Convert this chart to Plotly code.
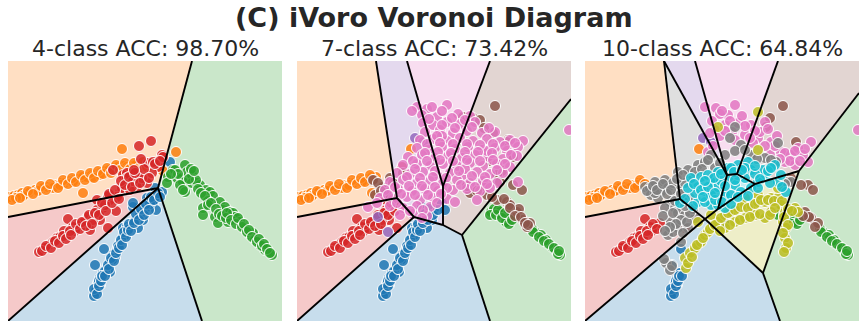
import plotly.graph_objects as go

# each panel is a 274 x 260 frame (x right, y up)
TAB = {
    "blue": (31, 119, 180), "orange": (255, 127, 14), "green": (44, 160, 44),
    "red": (214, 39, 40), "purple": (148, 103, 189), "brown": (140, 86, 75),
    "pink": (227, 119, 194), "gray": (127, 127, 127), "olive": (188, 189, 34),
    "cyan": (23, 190, 207),
}
CLASS_ORDER = ["blue", "orange", "green", "red", "purple", "brown", "pink", "gray", "olive", "cyan"]

main_title = "(C) iVoro Voronoi Diagram"
titles = ["4-class ACC: 98.70%", "7-class ACC: 73.42%", "10-class ACC: 64.84%"]

# ---------------- points ----------------
orange_4 = [(2,124),(6,125),(10,126),(14,128),(18,127),(22,129),(27,131),(31,131),(35,133),(40,134),
            (44,134),(48,136),(53,138),(57,138),(62,140),(66,141),(70,142),(75,144),(79,144),(84,146),
            (88,147),(92,148),(97,150),(101,151),(106,153),(110,154),(115,155),(119,154),(124,155),(128,156),
            (133,155),(137,156),(141,157),(146,155),(15,125),(45,133),(65,139),(85,144),(105,150),(125,152),
            (114,172),(75,128),(168,169),(150,152),(155,150),(8,123),(30,130),(52,136),(92,146),(120,152),
            (4,121),(12,123),(20,130),(25,127),(33,135),(38,131),(42,137),(50,133),(55,141),(60,137),
            (64,143),(68,139),(73,146),(77,141),(82,148),(86,143),(90,150),(95,147),(99,153),(103,148),
            (108,156),(112,151),(117,158),(122,152),(126,158),(131,153),(135,159),(139,154),(144,158)]
orange_7 = [(2,124),(6,125),(10,126),(14,128),(18,127),(22,129),(27,131),(31,131),(35,133),(40,134),
            (44,134),(48,136),(53,138),(57,138),(62,140),(66,141),(70,142),(75,144),(79,144),(15,125),
            (45,133),(65,139),(75,128),(8,123),(30,130),(52,136),(114,172),
            (4,121),(12,123),(20,130),(25,127),(33,135),(38,131),(42,137),(50,133),(55,141),(60,137),
            (64,143),(68,139),(73,146),(77,141)]
orange_10 = [(2,124),(6,125),(10,126),(14,128),(18,127),(22,129),(27,131),(31,131),(35,133),(40,134),
             (44,134),(48,136),(53,138),(57,138),(15,125),(45,133),(8,123),(30,130),(52,136),(114,172),
             (4,121),(12,123),(20,130),(25,127),(33,135),(38,131),(42,137),(50,133),(55,141),(60,137)]

red_4 = [(31,69),(41,76),(49,83),(59,86),(60,102),(70,94),(77,101),(80,104),(89,121),(95,113),
         (100,93),(92,101),(102,121),(112,129),(120,139),(115,146),(105,151),(119,148),(82,91),(65,94),
         (52,84),(37,73),(45,79),(89,111),(131,175),(143,180),(130,146),(140,158),(150,154),(145,159),
         (154,166),(119,143),(114,133),(129,134),(139,138),(109,124),(122,131),(97,116),(85,101),(134,143),
         (144,148),(155,164),(108,110),(75,98),(67,90),(56,90),(100,125),(125,140),
         (34,70),(38,75),(43,73),(47,80),(51,78),(55,85),(58,82),(62,90),(63,86),(68,97),
         (72,92),(74,99),(78,95),(81,106),(84,97),(87,108),(91,106),(94,118),(98,110),(101,127),
         (104,118),(107,131),(111,122),(113,140),(117,136),(121,144),(124,134),(127,148),(132,138),(136,152),
         (141,143),(147,157),(152,160),(133,162),(126,151)]
red_7 = [(31,69),(41,76),(49,83),(59,86),(60,102),(70,94),(77,101),(80,104),(89,121),(95,113),
         (100,93),(92,101),(82,91),(65,94),(52,84),(37,73),(45,79),(89,111),(97,116),(85,101),
         (75,98),(67,90),(56,90),(105,154),
         (34,70),(38,75),(43,73),(47,80),(51,78),(55,85),(58,82),(62,90),(63,86),(68,97),
         (72,92),(74,99),(78,95),(81,106),(84,97),(87,108),(91,106),(94,118),(98,110)]
red_10 = [(31,69),(41,76),(49,83),(59,86),(60,102),(70,94),(65,94),(52,84),(37,73),(45,79),
          (75,98),(67,90),(56,90),(100,93),
          (34,70),(38,75),(43,73),(47,80),(51,78),(55,85),(58,82),(62,90),(63,86),(68,97),(72,92)]

blue_4 = [(87,28),(89,33),(90,38),(92,43),(95,48),(99,53),(102,59),(105,66),(109,71),(112,78),
          (115,84),(119,89),(124,96),(129,103),(134,109),(139,114),(144,119),(149,126),(147,133),(162,159),
          (87,56),(96,72),(115,93),(125,114),(107,63),(92,36),(102,49),(135,101),(130,93),(139,123),
          (145,118),(148,111),(154,129),(119,94),(125,118),(88,30),(91,40),(97,50),(104,61),(110,75),
          (117,86),(122,93),(127,100),(132,106),(137,112),(142,117),(86,25),
          (86,32),(89,27),(91,35),(93,40),(94,45),(97,45),(100,56),(101,52),(103,63),(106,60),
          (108,68),(111,73),(113,81),(114,76),(116,89),(118,84),(120,91),(121,97),(123,90),(126,98),
          (128,107),(131,101),(133,112),(136,106),(138,117),(141,111),(143,124),(146,121),(150,128),(152,124)]
blue_7 = [(87,28),(89,33),(90,38),(92,43),(95,48),(99,53),(102,59),(105,66),(109,71),(112,78),
          (115,84),(119,89),(124,96),(129,103),(134,109),(139,114),(144,119),(87,56),(96,72),(115,93),
          (125,114),(107,63),(92,36),(102,49),(135,101),(130,93),(145,118),(148,111),(119,94),(88,30),
          (91,40),(97,50),(104,61),(110,75),(117,86),(122,93),(127,100),(132,106),(137,112),(86,25),
          (86,32),(89,27),(91,35),(93,40),(94,45),(97,45),(100,56),(101,52),(103,63),(106,60),
          (108,68),(111,73),(113,81),(114,76),(116,89),(118,84),(120,91),(121,97),(123,90),(126,98),
          (128,107),(131,101),(133,112),(136,106),(141,111)]
blue_10 = [(87,28),(89,33),(90,38),(92,43),(95,48),(87,56),(96,72),(92,36),(88,30),(91,40),(86,25),(140,98),
           (86,32),(89,27),(91,35),(93,40),(94,45),(97,45)]

green_4 = [(160,144),(165,151),(167,151),(169,143),(174,143),(177,156),(179,149),(175,139),(172,136),(184,146),
           (184,138),(189,138),(177,129),(159,138),(175,131),(192,136),(198,131),(188,141),(202,129),(205,125),
           (195,113),(195,106),(200,120),(207,104),(210,98),(212,119),(215,111),(217,114),(220,99),(222,109),
           (225,108),(227,104),(232,99),(237,92),(242,86),(245,88),(247,81),(252,76),(257,71),(260,70),(264,66),
           (190,132),(193,128),(197,125),(200,116),(203,118),(208,112),(211,107),(214,105),(218,103),(219,108),
           (223,101),(228,97),(230,103),(234,94),(236,97),(239,89),(241,91),(244,84),(249,79),(251,82),
           (254,75),(256,77),(259,72),(262,68),(183,152),(170,147),(163,147),(181,142),(186,150)]
green_7 = [(194,109),(197,112),(203,109),(206,106),(210,99),(213,103),(193,106),(240,86),(238,89),(245,83),
           (244,86),(250,78),(249,81),(255,74),(260,69),(263,66),(235,92),(258,72),(209,99),
           (199,106),(201,111),(205,103),(208,108),(212,97),(215,101),(236,89),(242,84),(247,80),(252,77),
           (257,73),(261,67),(262,70)]

brown_7 = [(198,215),(166,204),(176,203),(183,201),(187,193),(196,188),(211,181),(210,179),(216,164),(205,150),
           (193,160),(200,146),(203,139),(216,136),(225,131),(173,128),(190,126),(200,121),(210,119),(213,116),
           (220,109),(222,112),(226,101),(230,94),(233,98),(170,135),(185,135),(76,141),(86,134),(93,143),
           (106,148),(78,126),(89,128),(100,132),(213,113),(218,105),(224,104),(228,98),(231,96),(207,122),
           (195,124),(180,130),(81,138),(96,138),(84,130)]
brown_10 = [(198,215),(185,203),(181,194),(211,179),(206,143),(203,139),(223,136),(228,131),(226,103),(233,98),
            (220,109),(230,94),(216,136),(224,104),(218,105)]

purple_7 = [(118,183),(126,179),(81,104),(91,89)]
purple_10 = [(118,183),(126,179)]

pink_7 = [(120,214),(130,212),(150,216),(125,206),(140,204),(161,207),(173,205),(126,198),(136,196),(150,199),
          (163,197),(178,199),(128,189),(143,191),(156,188),(170,190),(185,188),(198,189),(123,181),(136,182),
          (150,180),(163,183),(176,180),(190,182),(203,179),(213,181),(226,180),(120,173),(131,171),(145,174),
          (158,172),(171,174),(185,171),(198,173),(210,170),(221,174),(111,164),(125,166),(138,163),(151,165),
          (165,163),(178,166),(191,164),(206,162),(220,165),(106,156),(120,157),(133,155),(146,157),(160,155),
          (173,158),(186,155),(200,157),(213,154),(100,148),(113,147),(126,149),(140,146),(153,148),(166,146),
          (180,149),(193,147),(206,148),(93,139),(106,141),(120,138),(133,140),(146,138),(160,141),(173,138),
          (186,140),(200,138),(221,139),(88,131),(101,132),(115,130),(128,132),(141,130),(156,131),(170,132),
          (183,130),(83,123),(96,122),(110,124),(123,121),(136,123),(150,122),(180,121),(71,114),(93,115),
          (106,113),(120,115),(133,114),(158,119),(103,106),(116,107),(130,105),(272,191),(193,133),(145,185),
          (168,152),(190,170),(138,150),(116,160),
          (115,210),(135,214),(145,210),(132,202),(155,203),(168,201),(145,196),(158,193),(140,185),(175,194),
          (192,193),(130,177),(143,178),(156,177),(170,177),(183,176),(196,177),(208,175),(218,178),(128,168),
          (141,169),(154,168),(168,169),(181,169),(195,168),(214,166),(118,152),(130,160),(143,161),(156,160),
          (170,161),(183,160),(196,161),(208,157),(110,144),(123,143),(136,144),(149,143),(162,150),(175,145),
          (188,144),(200,151),(98,134),(112,135),(125,135),(138,134),(150,133),(164,136),(178,134),(190,137),
          (91,126),(104,127),(118,126),(131,126),(144,127),(80,118),(100,118),(113,110),(126,111),(140,118),
          (125,103)]
pink_10 = [(120,214),(131,213),(150,216),(130,191),(140,196),(153,198),(166,196),(180,199),(160,186),(173,183),
           (186,179),(196,169),(206,166),(213,173),(226,179),(223,159),(210,156),(200,159),(185,166),(123,169),
           (125,188),(143,206),(175,189),(273,191),(135,207),(157,205),(192,185),(218,166),(168,178),(147,189),
           (127,200),(137,210),(145,200),(160,195),(170,190),(183,192),(190,175),(200,168),(210,170),(220,172),
           (180,175),(165,183),(150,181),(135,185),(205,160),(215,160),(195,162),(128,175),(140,190)]

gray_10 = [(60,134),(65,133),(70,139),(75,134),(80,141),(83,133),(88,138),(66,126),(76,129),(73,123),
           (85,119),(80,113),(90,113),(93,108),(100,106),(86,99),(93,93),(83,86),(88,89),(103,93),
           (110,103),(81,58),(85,51),(106,141),(93,149),(103,151),(113,156),(120,159),(130,153),(140,166),
           (145,183),(150,194),(156,176),(166,166),(180,163),(193,178),(191,159),(206,139),(198,134),(126,166),
           (95,131),(105,123),(96,79),(70,128),(98,120),(78,105),(92,125),(108,112),
           (62,130),(68,135),(72,131),(78,137),(82,127),(86,131),(90,120),(88,108),(96,101),(91,97),
           (98,88),(85,94),(80,90),(102,99),(105,108),(100,115),(96,127),(100,138),(110,149),(117,152),
           (123,161),(135,158),(150,170),(160,171),(172,162),(186,161),(200,137),(87,55),(79,62),(92,142),(98,146)]
olive_10 = [(100,63),(101,53),(105,68),(110,73),(116,79),(120,86),(123,89),(128,94),(133,99),(140,106),
            (146,109),(153,113),(160,116),(166,116),(173,119),(180,119),(186,123),(193,123),(196,116),(200,109),
            (198,99),(201,93),(200,83),(201,73),(210,113),(213,109),(173,126),(160,123),(140,93),(150,99),
            (160,103),(170,106),(180,103),(186,109),(173,209),(133,194),(173,171),(126,106),(113,99),(193,133),
            (103,58),(107,64),(112,76),(118,83),(125,92),(130,96),(136,103),(143,108),(150,111),(156,114),
            (163,113),(170,117),(176,121),(183,121),(189,120),(197,120),(203,112),(199,104),(203,96),(198,88),
            (203,78),(199,69),(207,110),(145,96),(155,101),(165,104),(175,107),(185,106),(135,90),(190,113)]
cyan_10 = [(106,143),(113,134),(120,129),(126,139),(133,149),(143,153),(153,156),(163,159),(166,151),(180,146),
           (190,156),(193,139),(201,129),(113,119),(126,116),(140,126),(150,136),(160,143),(173,139),(95,118),
           (140,113),(120,119),(133,134),(143,143),(153,146),(160,153),(116,144),(126,126),(133,116),(146,126),
           (110,128),(103,133),(185,138),(178,151),(146,153),(136,140),(156,129),(166,133),(123,146),(170,147),
           (109,137),(116,131),(123,134),(129,143),(136,147),(149,149),(157,151),(170,155),(175,142),(183,150),
           (196,146),(197,134),(118,124),(130,121),(137,119),(146,117),(153,124),(163,125),(100,122),(108,115),
           (150,141),(140,135),(130,128),(120,140),(186,153),(173,133)]

points = [
    {"blue": blue_4, "orange": orange_4, "green": green_4, "red": red_4},
    {"blue": blue_7, "orange": orange_7, "green": green_7, "red": red_7,
     "purple": purple_7, "brown": brown_7, "pink": pink_7},
    {"blue": blue_10, "orange": orange_10, "green": green_7, "red": red_10, "purple": purple_10,
     "brown": brown_10, "pink": pink_10, "gray": gray_10, "olive": olive_10, "cyan": cyan_10},
]

# ---------------- voronoi cells ----------------
c1 = (150, 133)
cells_4 = {
    "orange": [(0,260),(184,260),c1,(0,104)],
    "green": [(184,260),(274,260),(274,0),(194,0),c1],
    "blue": [c1,(194,0),(0,0)],
    "red": [(0,104),c1,(0,0)],
}
edges_4 = [((184,260),c1), ((0,104),c1), ((0,0),c1), ((194,0),c1)]

A, B, C, D, E = (100,123), (117,104), (146,96), (165,86), (146,135)
cells_7 = {
    "orange": [(0,260),(79,260),A,(0,104)],
    "purple": [(79,260),(110,260),E,C,B,A],
    "pink": [(110,260),(193,260),E],
    "brown": [(193,260),(274,260),(274,222),D,C,E],
    "green": [D,(274,222),(274,0),(193,0)],
    "blue": [B,C,D,(193,0),(0,0)],
    "red": [(0,104),A,B,(0,0)],
}
edges_7 = [((79,260),A), (A,(0,104)), (A,B), (B,(0,0)), (B,C), (C,D), (D,(193,0)),
           (D,(274,222)), (C,E), (E,(110,260)), (E,(193,260))]

A3, F, G, H = (95,122), (120,102), (178,48), (214,150)
J, K, L, M = (170,137), (142,146), (152,147), (133,112)
cells_10 = {
    "orange": [(0,260),(79,260),A3,(0,104)],
    "gray": [(79,260),K,M,F,A3],
    "purple": [(79,260),(110,260),K],
    "pink": [(110,260),(193,260),L,K],
    "brown": [(193,260),(274,260),(274,228),H,J,L],
    "cyan": [K,L,J,M],
    "olive": [M,J,H,G,F],
    "green": [H,(274,228),(274,0),(195,0),G],
    "blue": [F,G,(195,0),(0,0)],
    "red": [(0,104),A3,F,(0,0)],
}
edges_10 = [((79,260),A3), (A3,(0,104)), (A3,F), (F,(0,0)), (F,G), (G,(195,0)), (G,H),
            (H,(274,228)), (H,J), (J,L), (L,(193,260)), (L,K), (K,(110,260)), (K,(79,260)),
            (K,M), (M,F), (M,J)]

cells = [cells_4, cells_7, cells_10]
edges = [edges_4, edges_7, edges_10]

# ---------------- figure ----------------
W, HT = 867, 330
ML, MR, MT, MB = 8, 8, 61, 9
pw = W - ML - MR
panel_px = [(8, 282), (297, 571), (585, 859)]

fig = go.Figure()

def rgba(name, a):
    r, g, b = TAB[name]
    return f"rgba({r},{g},{b},{a})"

for i in range(3):
    ax = "" if i == 0 else str(i + 1)
    xa, ya = "x" + ax, "y" + ax
    for name, poly in cells[i].items():
        fig.add_trace(go.Scatter(
            x=[p[0] for p in poly] + [poly[0][0]], y=[p[1] for p in poly] + [poly[0][1]],
            mode="lines", fill="toself", fillcolor=rgba(name, 0.25), line=dict(width=0),
            hoverinfo="skip", showlegend=False, xaxis=xa, yaxis=ya))
    for name in CLASS_ORDER:
        if name not in points[i]:
            continue
        pts = points[i][name]
        fig.add_trace(go.Scatter(
            x=[p[0] for p in pts], y=[p[1] for p in pts], mode="markers",
            marker=dict(size=11, color=rgba(name, 0.85), line=dict(color="white", width=1)),
            showlegend=False, xaxis=xa, yaxis=ya))
    ex, ey = [], []
    for p, q in edges[i]:
        ex += [p[0], q[0], None]
        ey += [p[1], q[1], None]
    fig.add_trace(go.Scatter(x=ex, y=ey, mode="lines", line=dict(color="black", width=1.9),
                             hoverinfo="skip", showlegend=False, xaxis=xa, yaxis=ya))
    x0, x1 = panel_px[i]
    dom = [(x0 - ML) / pw, (x1 - ML) / pw]
    fig.layout["xaxis" + ax] = dict(domain=dom, range=[0, 274], visible=False, fixedrange=True, anchor=ya)
    fig.layout["yaxis" + ax] = dict(domain=[0, 1], range=[0, 260], visible=False, fixedrange=True, anchor=xa)
    fig.add_annotation(text=titles[i], x=(dom[0] + dom[1]) / 2, y=1, xref="paper", yref="paper",
                       xanchor="center", yanchor="bottom", yshift=-2, showarrow=False,
                       font=dict(size=22, color="#262626", family="DejaVu Sans"))

fig.add_annotation(text="<b>" + main_title + "</b>", x=0.5, y=1, xref="paper", yref="paper",
                   xanchor="center", yanchor="middle", yshift=44, showarrow=False,
                   font=dict(size=27, color="#262626", family="DejaVu Sans"))

fig.update_layout(
    width=W, height=HT,
    margin=dict(l=ML, r=MR, t=MT, b=MB),
    paper_bgcolor="white", plot_bgcolor="white",
    font=dict(family="DejaVu Sans"),
)

# drop the default 8px page margin so the figure sits at the window corner
fig.write_html("out.html", config={"displayModeBar": False},
               post_script="document.body.style.margin='0';")
